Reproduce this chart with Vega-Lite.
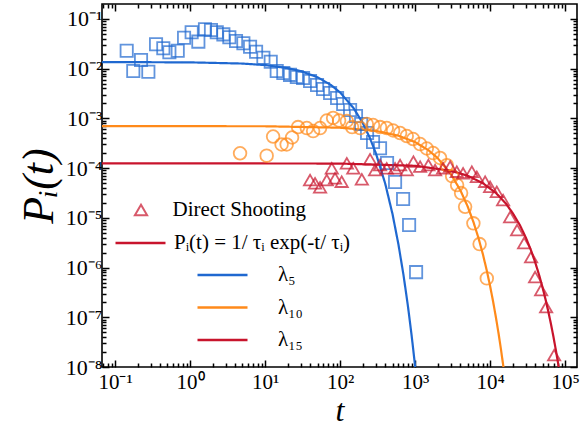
{
  "$schema": "https://vega.github.io/schema/vega-lite/v6.json",
  "width": 475,
  "height": 363,
  "autosize": {"type": "none"},
  "padding": {"left": 102, "top": 4, "right": 4, "bottom": 68},
  "background": "white",
  "config": {
    "view": {"stroke": "black", "strokeWidth": 1.6},
    "font": "Liberation Serif"
  },
  "datasets": {
    "fits": [
      {"lambda": "λ₅", "model": "Pᵢ(t) = 1/ τᵢ exp(-t/ τᵢ)", "t": 0.067, "P": 0.0136},
      {"lambda": "λ₅", "model": "Pᵢ(t) = 1/ τᵢ exp(-t/ τᵢ)", "t": 1, "P": 0.0134},
      {"lambda": "λ₅", "model": "Pᵢ(t) = 1/ τᵢ exp(-t/ τᵢ)", "t": 5, "P": 0.01268},
      {"lambda": "λ₅", "model": "Pᵢ(t) = 1/ τᵢ exp(-t/ τᵢ)", "t": 10, "P": 0.01181},
      {"lambda": "λ₅", "model": "Pᵢ(t) = 1/ τᵢ exp(-t/ τᵢ)", "t": 20, "P": 0.01026},
      {"lambda": "λ₅", "model": "Pᵢ(t) = 1/ τᵢ exp(-t/ τᵢ)", "t": 30, "P": 0.00891},
      {"lambda": "λ₅", "model": "Pᵢ(t) = 1/ τᵢ exp(-t/ τᵢ)", "t": 50, "P": 0.00673},
      {"lambda": "λ₅", "model": "Pᵢ(t) = 1/ τᵢ exp(-t/ τᵢ)", "t": 75, "P": 0.00473},
      {"lambda": "λ₅", "model": "Pᵢ(t) = 1/ τᵢ exp(-t/ τᵢ)", "t": 100, "P": 0.00333},
      {"lambda": "λ₅", "model": "Pᵢ(t) = 1/ τᵢ exp(-t/ τᵢ)", "t": 150, "P": 0.00164},
      {"lambda": "λ₅", "model": "Pᵢ(t) = 1/ τᵢ exp(-t/ τᵢ)", "t": 200, "P": 0.000813},
      {"lambda": "λ₅", "model": "Pᵢ(t) = 1/ τᵢ exp(-t/ τᵢ)", "t": 250, "P": 0.000402},
      {"lambda": "λ₅", "model": "Pᵢ(t) = 1/ τᵢ exp(-t/ τᵢ)", "t": 300, "P": 0.000199},
      {"lambda": "λ₅", "model": "Pᵢ(t) = 1/ τᵢ exp(-t/ τᵢ)", "t": 400, "P": 4.86e-5},
      {"lambda": "λ₅", "model": "Pᵢ(t) = 1/ τᵢ exp(-t/ τᵢ)", "t": 500, "P": 1.19e-5},
      {"lambda": "λ₅", "model": "Pᵢ(t) = 1/ τᵢ exp(-t/ τᵢ)", "t": 600, "P": 2.91e-6},
      {"lambda": "λ₅", "model": "Pᵢ(t) = 1/ τᵢ exp(-t/ τᵢ)", "t": 700, "P": 7.11e-7},
      {"lambda": "λ₅", "model": "Pᵢ(t) = 1/ τᵢ exp(-t/ τᵢ)", "t": 800, "P": 1.74e-7},
      {"lambda": "λ₅", "model": "Pᵢ(t) = 1/ τᵢ exp(-t/ τᵢ)", "t": 900, "P": 4.25e-8},
      {"lambda": "λ₅", "model": "Pᵢ(t) = 1/ τᵢ exp(-t/ τᵢ)", "t": 1000, "P": 1.04e-8},
      {"lambda": "λ₅", "model": "Pᵢ(t) = 1/ τᵢ exp(-t/ τᵢ)", "t": 1050, "P": 5.1e-9},
      {"lambda": "λ₁₀", "model": "Pᵢ(t) = 1/ τᵢ exp(-t/ τᵢ)", "t": 0.067, "P": 7.0e-4},
      {"lambda": "λ₁₀", "model": "Pᵢ(t) = 1/ τᵢ exp(-t/ τᵢ)", "t": 10, "P": 6.95e-4},
      {"lambda": "λ₁₀", "model": "Pᵢ(t) = 1/ τᵢ exp(-t/ τᵢ)", "t": 100, "P": 6.5e-4},
      {"lambda": "λ₁₀", "model": "Pᵢ(t) = 1/ τᵢ exp(-t/ τᵢ)", "t": 300, "P": 5.61e-4},
      {"lambda": "λ₁₀", "model": "Pᵢ(t) = 1/ τᵢ exp(-t/ τᵢ)", "t": 600, "P": 4.49e-4},
      {"lambda": "λ₁₀", "model": "Pᵢ(t) = 1/ τᵢ exp(-t/ τᵢ)", "t": 1000, "P": 3.34e-4},
      {"lambda": "λ₁₀", "model": "Pᵢ(t) = 1/ τᵢ exp(-t/ τᵢ)", "t": 1500, "P": 2.3e-4},
      {"lambda": "λ₁₀", "model": "Pᵢ(t) = 1/ τᵢ exp(-t/ τᵢ)", "t": 2000, "P": 1.59e-4},
      {"lambda": "λ₁₀", "model": "Pᵢ(t) = 1/ τᵢ exp(-t/ τᵢ)", "t": 3000, "P": 7.59e-5},
      {"lambda": "λ₁₀", "model": "Pᵢ(t) = 1/ τᵢ exp(-t/ τᵢ)", "t": 4000, "P": 3.62e-5},
      {"lambda": "λ₁₀", "model": "Pᵢ(t) = 1/ τᵢ exp(-t/ τᵢ)", "t": 5000, "P": 1.72e-5},
      {"lambda": "λ₁₀", "model": "Pᵢ(t) = 1/ τᵢ exp(-t/ τᵢ)", "t": 6000, "P": 8.22e-6},
      {"lambda": "λ₁₀", "model": "Pᵢ(t) = 1/ τᵢ exp(-t/ τᵢ)", "t": 7000, "P": 3.92e-6},
      {"lambda": "λ₁₀", "model": "Pᵢ(t) = 1/ τᵢ exp(-t/ τᵢ)", "t": 8000, "P": 1.87e-6},
      {"lambda": "λ₁₀", "model": "Pᵢ(t) = 1/ τᵢ exp(-t/ τᵢ)", "t": 9000, "P": 8.9e-7},
      {"lambda": "λ₁₀", "model": "Pᵢ(t) = 1/ τᵢ exp(-t/ τᵢ)", "t": 10000, "P": 4.24e-7},
      {"lambda": "λ₁₀", "model": "Pᵢ(t) = 1/ τᵢ exp(-t/ τᵢ)", "t": 11000, "P": 2.02e-7},
      {"lambda": "λ₁₀", "model": "Pᵢ(t) = 1/ τᵢ exp(-t/ τᵢ)", "t": 12000, "P": 9.6e-8},
      {"lambda": "λ₁₀", "model": "Pᵢ(t) = 1/ τᵢ exp(-t/ τᵢ)", "t": 13000, "P": 4.6e-8},
      {"lambda": "λ₁₀", "model": "Pᵢ(t) = 1/ τᵢ exp(-t/ τᵢ)", "t": 14000, "P": 2.19e-8},
      {"lambda": "λ₁₀", "model": "Pᵢ(t) = 1/ τᵢ exp(-t/ τᵢ)", "t": 15000, "P": 1.04e-8},
      {"lambda": "λ₁₀", "model": "Pᵢ(t) = 1/ τᵢ exp(-t/ τᵢ)", "t": 16000, "P": 5.0e-9},
      {"lambda": "λ₁₅", "model": "Pᵢ(t) = 1/ τᵢ exp(-t/ τᵢ)", "t": 0.067, "P": 1.25e-4},
      {"lambda": "λ₁₅", "model": "Pᵢ(t) = 1/ τᵢ exp(-t/ τᵢ)", "t": 100, "P": 1.236e-4},
      {"lambda": "λ₁₅", "model": "Pᵢ(t) = 1/ τᵢ exp(-t/ τᵢ)", "t": 1000, "P": 1.114e-4},
      {"lambda": "λ₁₅", "model": "Pᵢ(t) = 1/ τᵢ exp(-t/ τᵢ)", "t": 3000, "P": 8.85e-5},
      {"lambda": "λ₁₅", "model": "Pᵢ(t) = 1/ τᵢ exp(-t/ τᵢ)", "t": 5000, "P": 7.04e-5},
      {"lambda": "λ₁₅", "model": "Pᵢ(t) = 1/ τᵢ exp(-t/ τᵢ)", "t": 8000, "P": 4.98e-5},
      {"lambda": "λ₁₅", "model": "Pᵢ(t) = 1/ τᵢ exp(-t/ τᵢ)", "t": 12000, "P": 3.15e-5},
      {"lambda": "λ₁₅", "model": "Pᵢ(t) = 1/ τᵢ exp(-t/ τᵢ)", "t": 16000, "P": 1.99e-5},
      {"lambda": "λ₁₅", "model": "Pᵢ(t) = 1/ τᵢ exp(-t/ τᵢ)", "t": 20000, "P": 1.25e-5},
      {"lambda": "λ₁₅", "model": "Pᵢ(t) = 1/ τᵢ exp(-t/ τᵢ)", "t": 25000, "P": 7.07e-6},
      {"lambda": "λ₁₅", "model": "Pᵢ(t) = 1/ τᵢ exp(-t/ τᵢ)", "t": 30000, "P": 3.98e-6},
      {"lambda": "λ₁₅", "model": "Pᵢ(t) = 1/ τᵢ exp(-t/ τᵢ)", "t": 35000, "P": 2.24e-6},
      {"lambda": "λ₁₅", "model": "Pᵢ(t) = 1/ τᵢ exp(-t/ τᵢ)", "t": 40000, "P": 1.26e-6},
      {"lambda": "λ₁₅", "model": "Pᵢ(t) = 1/ τᵢ exp(-t/ τᵢ)", "t": 45000, "P": 7.09e-7},
      {"lambda": "λ₁₅", "model": "Pᵢ(t) = 1/ τᵢ exp(-t/ τᵢ)", "t": 50000, "P": 3.99e-7},
      {"lambda": "λ₁₅", "model": "Pᵢ(t) = 1/ τᵢ exp(-t/ τᵢ)", "t": 55000, "P": 2.24e-7},
      {"lambda": "λ₁₅", "model": "Pᵢ(t) = 1/ τᵢ exp(-t/ τᵢ)", "t": 60000, "P": 1.26e-7},
      {"lambda": "λ₁₅", "model": "Pᵢ(t) = 1/ τᵢ exp(-t/ τᵢ)", "t": 65000, "P": 7.11e-8},
      {"lambda": "λ₁₅", "model": "Pᵢ(t) = 1/ τᵢ exp(-t/ τᵢ)", "t": 70000, "P": 4.0e-8},
      {"lambda": "λ₁₅", "model": "Pᵢ(t) = 1/ τᵢ exp(-t/ τᵢ)", "t": 75000, "P": 2.25e-8},
      {"lambda": "λ₁₅", "model": "Pᵢ(t) = 1/ τᵢ exp(-t/ τᵢ)", "t": 80000, "P": 1.27e-8},
      {"lambda": "λ₁₅", "model": "Pᵢ(t) = 1/ τᵢ exp(-t/ τᵢ)", "t": 85000, "P": 7.1e-9}
    ],
    "points": [
      {"series": "λ₅", "method": "Direct Shooting", "t": 0.143, "P": 0.023},
      {"series": "λ₅", "method": "Direct Shooting", "t": 0.175, "P": 0.009},
      {"series": "λ₅", "method": "Direct Shooting", "t": 0.222, "P": 0.015},
      {"series": "λ₅", "method": "Direct Shooting", "t": 0.278, "P": 0.0087},
      {"series": "λ₅", "method": "Direct Shooting", "t": 0.352, "P": 0.031},
      {"series": "λ₅", "method": "Direct Shooting", "t": 0.44, "P": 0.0257},
      {"series": "λ₅", "method": "Direct Shooting", "t": 0.53, "P": 0.0214},
      {"series": "λ₅", "method": "Direct Shooting", "t": 0.685, "P": 0.023},
      {"series": "λ₅", "method": "Direct Shooting", "t": 0.832, "P": 0.042},
      {"series": "λ₅", "method": "Direct Shooting", "t": 1.05, "P": 0.054},
      {"series": "λ₅", "method": "Direct Shooting", "t": 1.29, "P": 0.035},
      {"series": "λ₅", "method": "Direct Shooting", "t": 1.58, "P": 0.062},
      {"series": "λ₅", "method": "Direct Shooting", "t": 1.9, "P": 0.06},
      {"series": "λ₅", "method": "Direct Shooting", "t": 2.27, "P": 0.054},
      {"series": "λ₅", "method": "Direct Shooting", "t": 2.78, "P": 0.049},
      {"series": "λ₅", "method": "Direct Shooting", "t": 3.34, "P": 0.043},
      {"series": "λ₅", "method": "Direct Shooting", "t": 4.1, "P": 0.036},
      {"series": "λ₅", "method": "Direct Shooting", "t": 5.14, "P": 0.0324},
      {"series": "λ₅", "method": "Direct Shooting", "t": 6.31, "P": 0.0277},
      {"series": "λ₅", "method": "Direct Shooting", "t": 7.59, "P": 0.022},
      {"series": "λ₅", "method": "Direct Shooting", "t": 9.5, "P": 0.0166},
      {"series": "λ₅", "method": "Direct Shooting", "t": 11.9, "P": 0.0138},
      {"series": "λ₅", "method": "Direct Shooting", "t": 14.3, "P": 0.009},
      {"series": "λ₅", "method": "Direct Shooting", "t": 17.5, "P": 0.0082},
      {"series": "λ₅", "method": "Direct Shooting", "t": 21.5, "P": 0.0075},
      {"series": "λ₅", "method": "Direct Shooting", "t": 26.5, "P": 0.0068},
      {"series": "λ₅", "method": "Direct Shooting", "t": 32.1, "P": 0.0065},
      {"series": "λ₅", "method": "Direct Shooting", "t": 39.8, "P": 0.00566},
      {"series": "λ₅", "method": "Direct Shooting", "t": 49.3, "P": 0.0047},
      {"series": "λ₅", "method": "Direct Shooting", "t": 59.3, "P": 0.0039},
      {"series": "λ₅", "method": "Direct Shooting", "t": 73.6, "P": 0.00325},
      {"series": "λ₅", "method": "Direct Shooting", "t": 91.2, "P": 0.00258},
      {"series": "λ₅", "method": "Direct Shooting", "t": 110, "P": 0.00195},
      {"series": "λ₅", "method": "Direct Shooting", "t": 136, "P": 0.00148},
      {"series": "λ₅", "method": "Direct Shooting", "t": 163, "P": 0.00112},
      {"series": "λ₅", "method": "Direct Shooting", "t": 191, "P": 0.00077},
      {"series": "λ₅", "method": "Direct Shooting", "t": 229, "P": 0.00051},
      {"series": "λ₅", "method": "Direct Shooting", "t": 275, "P": 0.000335},
      {"series": "λ₅", "method": "Direct Shooting", "t": 341, "P": 0.00025},
      {"series": "λ₅", "method": "Direct Shooting", "t": 423, "P": 0.000127},
      {"series": "λ₅", "method": "Direct Shooting", "t": 541, "P": 5.25e-5},
      {"series": "λ₅", "method": "Direct Shooting", "t": 692, "P": 2.39e-5},
      {"series": "λ₅", "method": "Direct Shooting", "t": 832, "P": 7.2e-6},
      {"series": "λ₅", "method": "Direct Shooting", "t": 1031, "P": 8.1e-7},
      {"series": "λ₁₀", "method": "Direct Shooting", "t": 4.64, "P": 0.000199},
      {"series": "λ₁₀", "method": "Direct Shooting", "t": 10.5, "P": 0.000178},
      {"series": "λ₁₀", "method": "Direct Shooting", "t": 12.8, "P": 0.000432},
      {"series": "λ₁₀", "method": "Direct Shooting", "t": 16.6, "P": 0.000299},
      {"series": "λ₁₀", "method": "Direct Shooting", "t": 19.4, "P": 0.000299},
      {"series": "λ₁₀", "method": "Direct Shooting", "t": 22.9, "P": 0.000413},
      {"series": "λ₁₀", "method": "Direct Shooting", "t": 27.5, "P": 0.00067},
      {"series": "λ₁₀", "method": "Direct Shooting", "t": 36, "P": 0.00064},
      {"series": "λ₁₀", "method": "Direct Shooting", "t": 43.7, "P": 0.000557},
      {"series": "λ₁₀", "method": "Direct Shooting", "t": 54.1, "P": 0.00064},
      {"series": "λ₁₀", "method": "Direct Shooting", "t": 66.5, "P": 0.000908},
      {"series": "λ₁₀", "method": "Direct Shooting", "t": 80.7, "P": 0.00102},
      {"series": "λ₁₀", "method": "Direct Shooting", "t": 97, "P": 0.000908},
      {"series": "λ₁₀", "method": "Direct Shooting", "t": 123, "P": 0.000887},
      {"series": "λ₁₀", "method": "Direct Shooting", "t": 144.5, "P": 0.00067},
      {"series": "λ₁₀", "method": "Direct Shooting", "t": 185, "P": 0.00064},
      {"series": "λ₁₀", "method": "Direct Shooting", "t": 227, "P": 0.000771},
      {"series": "λ₁₀", "method": "Direct Shooting", "t": 275, "P": 0.000736},
      {"series": "λ₁₀", "method": "Direct Shooting", "t": 341, "P": 0.00067},
      {"series": "λ₁₀", "method": "Direct Shooting", "t": 419, "P": 0.00064},
      {"series": "λ₁₀", "method": "Direct Shooting", "t": 509, "P": 0.000571},
      {"series": "λ₁₀", "method": "Direct Shooting", "t": 631, "P": 0.000508},
      {"series": "λ₁₀", "method": "Direct Shooting", "t": 774, "P": 0.000442},
      {"series": "λ₁₀", "method": "Direct Shooting", "t": 940, "P": 0.000385},
      {"series": "λ₁₀", "method": "Direct Shooting", "t": 1166, "P": 0.000305},
      {"series": "λ₁₀", "method": "Direct Shooting", "t": 1432, "P": 0.000248},
      {"series": "λ₁₀", "method": "Direct Shooting", "t": 1738, "P": 0.000201},
      {"series": "λ₁₀", "method": "Direct Shooting", "t": 2154, "P": 0.00016},
      {"series": "λ₁₀", "method": "Direct Shooting", "t": 2646, "P": 0.000115},
      {"series": "λ₁₀", "method": "Direct Shooting", "t": 3113, "P": 6.93e-5},
      {"series": "λ₁₀", "method": "Direct Shooting", "t": 3631, "P": 4.57e-5},
      {"series": "λ₁₀", "method": "Direct Shooting", "t": 4104, "P": 3.15e-5},
      {"series": "λ₁₀", "method": "Direct Shooting", "t": 4642, "P": 1.67e-5},
      {"series": "λ₁₀", "method": "Direct Shooting", "t": 5986, "P": 7.75e-6},
      {"series": "λ₁₀", "method": "Direct Shooting", "t": 7244, "P": 2.97e-6},
      {"series": "λ₁₀", "method": "Direct Shooting", "t": 9036, "P": 6.06e-7},
      {"series": "λ₁₅", "method": "Direct Shooting", "t": 39.8, "P": 5.77e-5},
      {"series": "λ₁₅", "method": "Direct Shooting", "t": 46.4, "P": 4.94e-5},
      {"series": "λ₁₅", "method": "Direct Shooting", "t": 54.1, "P": 4.11e-5},
      {"series": "λ₁₅", "method": "Direct Shooting", "t": 66.5, "P": 5.77e-5},
      {"series": "λ₁₅", "method": "Direct Shooting", "t": 77.5, "P": 9.9e-5},
      {"series": "λ₁₅", "method": "Direct Shooting", "t": 85.7, "P": 6.24e-5},
      {"series": "λ₁₅", "method": "Direct Shooting", "t": 105, "P": 5.33e-5},
      {"series": "λ₁₅", "method": "Direct Shooting", "t": 123, "P": 0.000125},
      {"series": "λ₁₅", "method": "Direct Shooting", "t": 150, "P": 9.9e-5},
      {"series": "λ₁₅", "method": "Direct Shooting", "t": 195, "P": 5.95e-5},
      {"series": "λ₁₅", "method": "Direct Shooting", "t": 251, "P": 0.00015},
      {"series": "λ₁₅", "method": "Direct Shooting", "t": 293, "P": 9.16e-5},
      {"series": "λ₁₅", "method": "Direct Shooting", "t": 341, "P": 0.000115},
      {"series": "λ₁₅", "method": "Direct Shooting", "t": 419, "P": 9.9e-5},
      {"series": "λ₁₅", "method": "Direct Shooting", "t": 541, "P": 9.9e-5},
      {"series": "λ₁₅", "method": "Direct Shooting", "t": 631, "P": 0.000115},
      {"series": "λ₁₅", "method": "Direct Shooting", "t": 774, "P": 9.16e-5},
      {"series": "λ₁₅", "method": "Direct Shooting", "t": 949, "P": 0.000135},
      {"series": "λ₁₅", "method": "Direct Shooting", "t": 1166, "P": 0.000107},
      {"series": "λ₁₅", "method": "Direct Shooting", "t": 1503, "P": 0.000115},
      {"series": "λ₁₅", "method": "Direct Shooting", "t": 1848, "P": 9.16e-5},
      {"series": "λ₁₅", "method": "Direct Shooting", "t": 2362, "P": 9.9e-5},
      {"series": "λ₁₅", "method": "Direct Shooting", "t": 2929, "P": 0.000107},
      {"series": "λ₁₅", "method": "Direct Shooting", "t": 3594, "P": 8.47e-5},
      {"series": "λ₁₅", "method": "Direct Shooting", "t": 4365, "P": 7.86e-5},
      {"series": "λ₁₅", "method": "Direct Shooting", "t": 5701, "P": 8.47e-5},
      {"series": "λ₁₅", "method": "Direct Shooting", "t": 6653, "P": 6.71e-5},
      {"series": "λ₁₅", "method": "Direct Shooting", "t": 8577, "P": 5.33e-5},
      {"series": "λ₁₅", "method": "Direct Shooting", "t": 10000, "P": 4.22e-5},
      {"series": "λ₁₅", "method": "Direct Shooting", "t": 12280, "P": 3.35e-5},
      {"series": "λ₁₅", "method": "Direct Shooting", "t": 14900, "P": 2.28e-5},
      {"series": "λ₁₅", "method": "Direct Shooting", "t": 18480, "P": 1.04e-5},
      {"series": "λ₁₅", "method": "Direct Shooting", "t": 22900, "P": 5.69e-6},
      {"series": "λ₁₅", "method": "Direct Shooting", "t": 28400, "P": 3.11e-6},
      {"series": "λ₁₅", "method": "Direct Shooting", "t": 35200, "P": 1.63e-6},
      {"series": "λ₁₅", "method": "Direct Shooting", "t": 39800, "P": 6.44e-7},
      {"series": "λ₁₅", "method": "Direct Shooting", "t": 47900, "P": 3.52e-7},
      {"series": "λ₁₅", "method": "Direct Shooting", "t": 55800, "P": 1.6e-7},
      {"series": "λ₁₅", "method": "Direct Shooting", "t": 71300, "P": 1.73e-8}
    ]
  },
  "layer": [
    {
      "data": {"name": "fits"},
      "mark": {"type": "line", "clip": true, "strokeWidth": 2.2},
      "encoding": {
        "x": {
          "field": "t", "type": "quantitative",
          "scale": {"type": "log", "domain": [0.067, 144000], "nice": false},
          "axis": {
            "orient": "bottom", "domain": false, "grid": false,
            "values": [0.07, 0.08, 0.09, 0.1, 0.2, 0.3, 0.4, 0.5, 0.6, 0.7, 0.8, 0.9, 1, 2, 3, 4, 5, 6, 7, 8, 9, 10, 20, 30, 40, 50, 60, 70, 80, 90, 100, 200, 300, 400, 500, 600, 700, 800, 900, 1000, 2000, 3000, 4000, 5000, 6000, 7000, 8000, 9000, 10000, 20000, 30000, 40000, 50000, 60000, 70000, 80000, 90000, 100000],
            "tickSize": {"condition": {"test": "abs(log(datum.value)/LN10 - round(log(datum.value)/LN10)) < 0.001", "value": -7}, "value": -4},
            "tickColor": "black", "tickWidth": 1.5,
            "labelExpr": "abs(log(datum.value)/LN10 - round(log(datum.value)/LN10)) < 0.001 ? '10' + replace(replace(replace(replace(replace(replace(replace(replace(replace(replace(replace(toString(round(log(datum.value)/LN10)),'-','⁻'),'0','⁰'),'1','¹'),'2','²'),'3','³'),'4','⁴'),'5','⁵'),'6','⁶'),'7','⁷'),'8','⁸'),'9','⁹') : ''",
            "labelFont": "Liberation Serif", "labelFontSize": 21, "labelColor": "black",
            "labelPadding": 11, "labelOverlap": false, "labelFlush": false,
            "title": "t", "titleFont": "Liberation Serif", "titleFontSize": 32, "titleFontStyle": "italic", "titleFontWeight": "normal", "titleColor": "black", "titlePadding": 0
          }
        },
        "y": {
          "field": "P", "type": "quantitative",
          "scale": {"type": "log", "domain": [1e-8, 0.2], "nice": false},
          "axis": {
            "orient": "left", "domain": false, "grid": false,
            "values": [1e-8, 2e-8, 3e-8, 4e-8, 5e-8, 6e-8, 7e-8, 8e-8, 9e-8, 1e-7, 2e-7, 3e-7, 4e-7, 5e-7, 6e-7, 7e-7, 8e-7, 9e-7, 1e-6, 2e-6, 3e-6, 4e-6, 5e-6, 6e-6, 7e-6, 8e-6, 9e-6, 1e-5, 2e-5, 3e-5, 4e-5, 5e-5, 6e-5, 7e-5, 8e-5, 9e-5, 1e-4, 2e-4, 3e-4, 4e-4, 5e-4, 6e-4, 7e-4, 8e-4, 9e-4, 1e-3, 2e-3, 3e-3, 4e-3, 5e-3, 6e-3, 7e-3, 8e-3, 9e-3, 1e-2, 2e-2, 3e-2, 4e-2, 5e-2, 6e-2, 7e-2, 8e-2, 9e-2, 0.1],
            "tickSize": {"condition": {"test": "abs(log(datum.value)/LN10 - round(log(datum.value)/LN10)) < 0.001", "value": -7}, "value": -4},
            "tickColor": "black", "tickWidth": 1.5,
            "labelExpr": "abs(log(datum.value)/LN10 - round(log(datum.value)/LN10)) < 0.001 ? '10' + replace(replace(replace(replace(replace(replace(replace(replace(replace(replace(replace(toString(round(log(datum.value)/LN10)),'-','⁻'),'0','⁰'),'1','¹'),'2','²'),'3','³'),'4','⁴'),'5','⁵'),'6','⁶'),'7','⁷'),'8','⁸'),'9','⁹') : ''",
            "labelFont": "Liberation Serif", "labelFontSize": 22, "labelColor": "black",
            "labelPadding": 7, "labelOverlap": false, "labelFlush": false,
            "title": "Pᵢ(t)", "titleFont": "Liberation Serif", "titleFontSize": 44, "titleFontStyle": "italic", "titleFontWeight": "normal", "titleColor": "black", "titlePadding": 4
          }
        },
        "color": {
          "field": "lambda", "type": "nominal",
          "scale": {"domain": ["λ₅", "λ₁₀", "λ₁₅"], "range": ["#1f68d0", "#ff8a1a", "#c8142c"]},
          "legend": {
            "orient": "none", "legendX": 110, "legendY": 260.5, "title": null,
            "symbolType": "M-3.571,0L3.571,0", "symbolSize": 196, "symbolStrokeWidth": 2.5,
            "labelFont": "Liberation Serif", "labelFontSize": 21, "labelColor": "black",
            "labelOffset": 45, "rowPadding": 10.5
          }
        },
        "strokeDash": {
          "field": "model", "type": "nominal",
          "scale": {"range": [[1, 0]]},
          "legend": {
            "orient": "none", "legendX": 28, "legendY": 228.5, "title": null,
            "symbolType": "M-3.571,0L3.571,0", "symbolSize": 196, "symbolStrokeWidth": 2.5, "symbolStrokeColor": "#c8142c",
            "labelFont": "Liberation Serif", "labelFontSize": 21, "labelColor": "black", "labelLimit": 400,
            "labelOffset": 23
          }
        }
      }
    },
    {
      "data": {"name": "points"},
      "transform": [{"filter": "datum.series === 'λ₅'"}],
      "mark": {"type": "point", "shape": "square", "filled": false, "strokeWidth": 1.8, "size": 150, "color": "#1f68d0", "clip": true},
      "encoding": {
        "x": {
          "field": "t", "type": "quantitative",
          "scale": {"type": "log", "domain": [0.067, 144000], "nice": false},
          "axis": {
            "orient": "top", "domain": false, "grid": false, "labels": false, "title": null,
            "values": [0.07, 0.08, 0.09, 0.1, 0.2, 0.3, 0.4, 0.5, 0.6, 0.7, 0.8, 0.9, 1, 2, 3, 4, 5, 6, 7, 8, 9, 10, 20, 30, 40, 50, 60, 70, 80, 90, 100, 200, 300, 400, 500, 600, 700, 800, 900, 1000, 2000, 3000, 4000, 5000, 6000, 7000, 8000, 9000, 10000, 20000, 30000, 40000, 50000, 60000, 70000, 80000, 90000, 100000],
            "tickSize": {"condition": {"test": "abs(log(datum.value)/LN10 - round(log(datum.value)/LN10)) < 0.001", "value": -7}, "value": -4},
            "tickColor": "black", "tickWidth": 1.5
          }
        },
        "y": {
          "field": "P", "type": "quantitative",
          "scale": {"type": "log", "domain": [1e-8, 0.2], "nice": false},
          "axis": {
            "orient": "right", "domain": false, "grid": false, "labels": false, "title": null,
            "values": [1e-8, 2e-8, 3e-8, 4e-8, 5e-8, 6e-8, 7e-8, 8e-8, 9e-8, 1e-7, 2e-7, 3e-7, 4e-7, 5e-7, 6e-7, 7e-7, 8e-7, 9e-7, 1e-6, 2e-6, 3e-6, 4e-6, 5e-6, 6e-6, 7e-6, 8e-6, 9e-6, 1e-5, 2e-5, 3e-5, 4e-5, 5e-5, 6e-5, 7e-5, 8e-5, 9e-5, 1e-4, 2e-4, 3e-4, 4e-4, 5e-4, 6e-4, 7e-4, 8e-4, 9e-4, 1e-3, 2e-3, 3e-3, 4e-3, 5e-3, 6e-3, 7e-3, 8e-3, 9e-3, 1e-2, 2e-2, 3e-2, 4e-2, 5e-2, 6e-2, 7e-2, 8e-2, 9e-2, 0.1],
            "tickSize": {"condition": {"test": "abs(log(datum.value)/LN10 - round(log(datum.value)/LN10)) < 0.001", "value": -7}, "value": -4},
            "tickColor": "black", "tickWidth": 1.5
          }
        }
      }
    },
    {
      "data": {"name": "points"},
      "transform": [{"filter": "datum.series === 'λ₁₀'"}],
      "mark": {"type": "point", "shape": "circle", "filled": false, "strokeWidth": 1.8, "size": 160, "color": "#ff8a1a", "clip": true},
      "encoding": {
        "x": {"field": "t", "type": "quantitative", "scale": {"type": "log", "domain": [0.067, 144000], "nice": false}, "axis": null},
        "y": {"field": "P", "type": "quantitative", "scale": {"type": "log", "domain": [1e-8, 0.2], "nice": false}, "axis": null}
      }
    },
    {
      "data": {"name": "points"},
      "transform": [{"filter": "datum.series === 'λ₁₅'"}],
      "mark": {"type": "point", "shape": "triangle-up", "filled": false, "strokeWidth": 1.8, "color": "#c8142c", "clip": true},
      "encoding": {
        "x": {"field": "t", "type": "quantitative", "scale": {"type": "log", "domain": [0.067, 144000], "nice": false}, "axis": null},
        "y": {"field": "P", "type": "quantitative", "scale": {"type": "log", "domain": [1e-8, 0.2], "nice": false}, "axis": null},
        "size": {
          "field": "method", "type": "nominal",
          "scale": {"range": [150, 150]},
          "legend": {
            "orient": "none", "legendX": 28.5, "legendY": 195.5, "title": null,
            "symbolType": "triangle-up", "symbolStrokeColor": "#c8142c", "symbolFillColor": "transparent", "symbolStrokeWidth": 2,
            "labelFont": "Liberation Serif", "labelFontSize": 21, "labelColor": "black",
            "labelOffset": 21
          }
        }
      }
    }
  ],
  "resolve": {"axis": {"x": "independent", "y": "independent"}}
}
